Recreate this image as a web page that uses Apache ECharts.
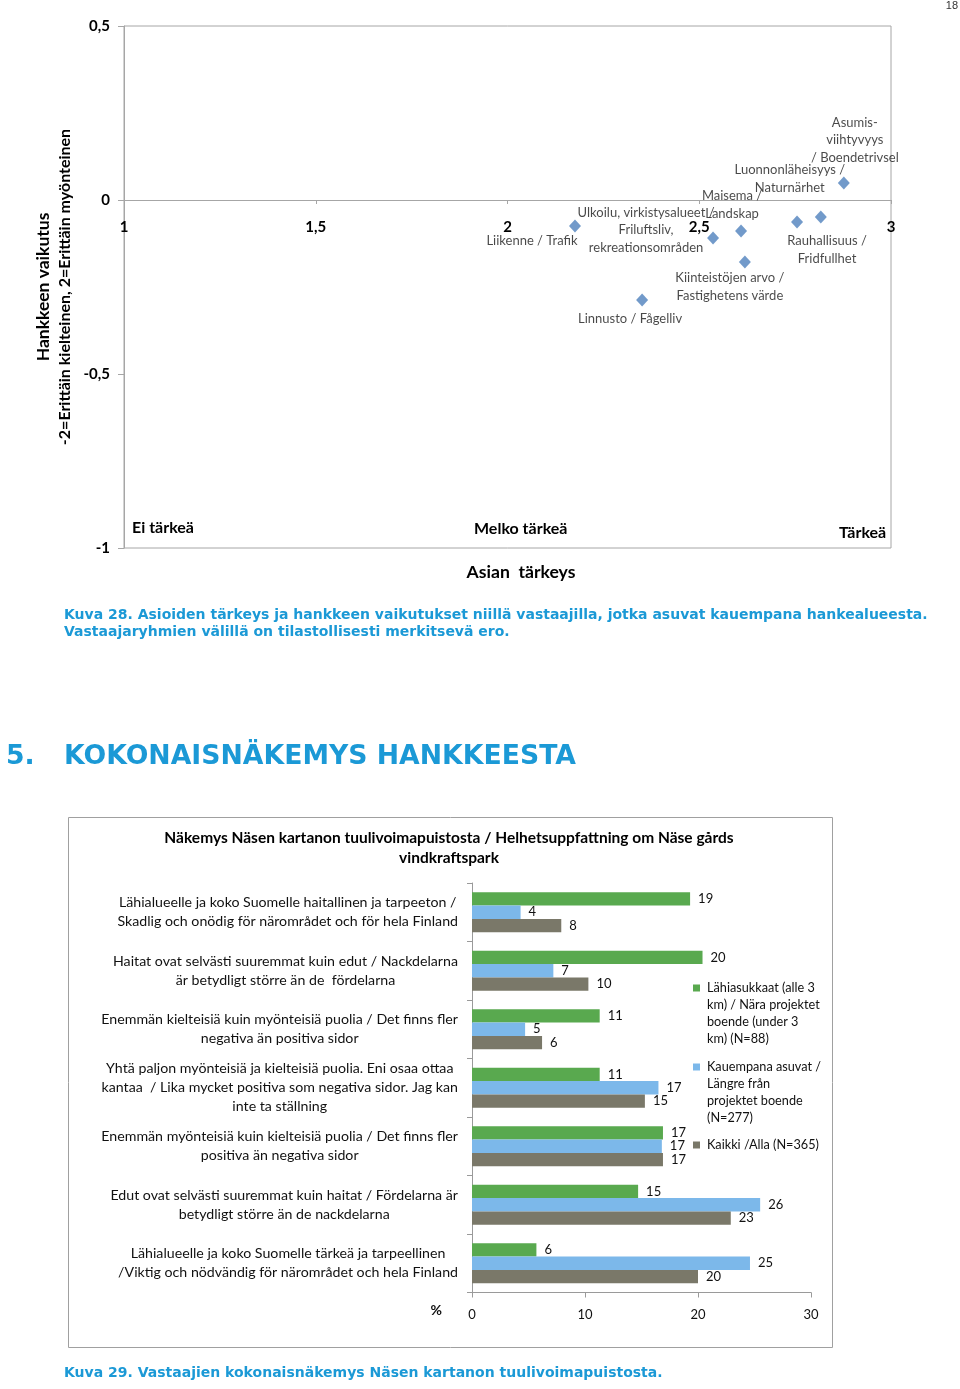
<!DOCTYPE html>
<html><head><meta charset="utf-8">
<script src="https://cdn.jsdelivr.net/npm/echarts@6/dist/echarts.min.js"></script>
<style>html,body{margin:0;padding:0;background:#fff}#c{width:960px;height:1389px}</style>
</head><body><div id="c"></div>
<script>
// ---- Scatter (Kuva 28) ----
const scatterNames = [
  'Liikenne / Trafik',
  'Linnusto / Fågelliv',
  'Ulkoilu, virkistysalueet /\nFriluftsliv,\nrekreationsområden',
  'Maisema /\nLandskap',
  'Kiinteistöjen arvo /\nFastighetens värde',
  'Rauhallisuus /\nFridfullhet',
  'Luonnonläheisyys /\nNaturnärhet',
  'Asumis-\nviihtyvyys\n/ Boendetrivsel'
];
const scatterImportance = [2.176, 2.351, 2.536, 2.609, 2.619, 2.755, 2.817, 2.877];
const scatterImpact = [-0.075, -0.287, -0.109, -0.089, -0.178, -0.063, -0.049, 0.049];
const scatterXTicks = ['1', '1,5', '2', '2,5', '3'];
const scatterYTicks = ['-1', '-0,5', '0', '0,5'];
const importanceLevels = ['Ei tärkeä', 'Melko tärkeä', 'Tärkeä'];

// ---- Bars (Kuva 29) ----
const barCategories = [
  'Lähialueelle ja koko Suomelle haitallinen ja tarpeeton /\nSkadlig och onödig för närområdet och för hela Finland',
  'Haitat ovat selvästi suuremmat kuin edut / Nackdelarna\när betydligt större än de  fördelarna',
  'Enemmän kielteisiä kuin myönteisiä puolia / Det finns fler\nnegativa än positiva sidor',
  'Yhtä paljon myönteisiä ja kielteisiä puolia. Eni osaa ottaa\nkantaa  / Lika mycket positiva som negativa sidor. Jag kan\ninte ta ställning',
  'Enemmän myönteisiä kuin kielteisiä puolia / Det finns fler\npositiva än negativa sidor',
  'Edut ovat selvästi suuremmat kuin haitat / Fördelarna är\nbetydligt större än de nackdelarna',
  'Lähialueelle ja koko Suomelle tärkeä ja tarpeellinen\n/Viktig och nödvändig för närområdet och hela Finland'
];
const seriesNames = [
  'Lähiasukkaat (alle 3\nkm) / Nära projektet\nboende (under 3\nkm) (N=88)',
  'Kauempana asuvat /\nLängre från\nprojektet boende\n(N=277)',
  'Kaikki /Alla (N=365)'
];
const nearValues = [19.3, 20.4, 11.3, 11.3, 16.9, 14.7, 5.7];
const farValues  = [4.3, 7.2, 4.7, 16.5, 16.8, 25.5, 24.6];
const allValues  = [7.9, 10.3, 6.2, 15.3, 16.9, 22.9, 20.0];
const barXTicks = ['0', '10', '20', '30'];

const F = 'Lato, "Open Sans", sans-serif';
const V = '"DejaVu Sans", Verdana, sans-serif';
const BLUE = '#1b99d6';
const AX = '#9a9a9a';

// label placement for the scatter points (pixel offsets from point)
const labelOffsets = [[-43, 15], [-12, 19], [-67, -8], [-9, -26], [-15, 25], [30, 28], [-31, -38], [11, -43]];

const scatterData = scatterNames.map((n, i) => ({
  name: n,
  value: [scatterImportance[i], scatterImpact[i]],
  label: { offset: labelOffsets[i] }
}));

const chart = echarts.init(document.getElementById('c'), null, { renderer: 'canvas' });

const barSeries = [nearValues, farValues, allValues].map((vals, i) => ({
  type: 'bar', name: seriesNames[i], xAxisIndex: 1, yAxisIndex: 1,
  data: vals,
  barGap: '0%', barCategoryGap: '32%',
  itemStyle: { color: ['#59a94f', '#7cb8ea', '#7a7869'][i] },
  label: { show: true, position: 'right', distance: 8, fontFamily: F, fontSize: 13, color: '#111',
           formatter: p => Math.round(p.value) },
  silent: true
}));

const legendTops = [928.5, 1007.5, 1136.5];
const legends = seriesNames.map((n, i) => ({
  data: [n], orient: 'vertical', left: 693, top: legendTops[i], padding: 0,
  itemWidth: 7, itemHeight: 7, itemGap: 0, icon: 'rect', selectedMode: false,
  formatter: i < 2 ? '\n\n\n{name}' : '{name}',
  textStyle: { fontFamily: F, fontSize: 12.7, lineHeight: 17, color: '#111', padding: [0, 0, 0, 2] }
}));

const option = {
  animation: false,
  backgroundColor: '#fff',
  legend: legends,
  grid: [
    { left: 124, top: 26, width: 767, height: 522, show: true, borderColor: '#a6a6a6', borderWidth: 1, containLabel: false },
    { left: 472, top: 883, width: 339, height: 409.5, containLabel: false }
  ],
  xAxis: [
    { gridIndex: 0, type: 'value', min: 1, max: 3, interval: 0.5,
      axisLine: { show: true, onZero: true, lineStyle: { color: '#a6a6a6' } },
      axisTick: { show: true, length: 4, lineStyle: { color: '#a6a6a6' } },
      splitLine: { show: false },
      axisLabel: { fontFamily: F, fontSize: 15, fontWeight: 'bold', color: '#000', margin: -328,
                   formatter: v => scatterXTicks[Math.round((v - 1) / 0.5)] } },
    { gridIndex: 1, type: 'value', min: 0, max: 30, interval: 10,
      axisLine: { show: true, lineStyle: { color: AX } },
      axisTick: { show: true, length: 5, lineStyle: { color: AX } },
      splitLine: { show: false },
      axisLabel: { fontFamily: F, fontSize: 13, color: '#111', margin: 16,
                   formatter: v => barXTicks[Math.round(v / 10)] },
      name: '%', nameLocation: 'start', nameGap: 30,
      nameTextStyle: { fontFamily: F, fontSize: 14, fontWeight: 'bold', color: '#111', verticalAlign: 'top', padding: [11, 0, 0, 0] } }
  ],
  yAxis: [
    { gridIndex: 0, type: 'value', min: -1, max: 0.5, interval: 0.5,
      axisLine: { show: true, lineStyle: { color: '#a6a6a6' } },
      axisTick: { show: true, length: 6, lineStyle: { color: '#a6a6a6' } },
      splitLine: { show: false },
      axisLabel: { fontFamily: F, fontSize: 15, fontWeight: 'bold', color: '#000', margin: 14,
                   formatter: v => scatterYTicks[Math.round((v + 1) / 0.5)] },
      name: '{a|Hankkeen vaikutus}\n{b|-2=Erittäin kielteinen, 2=Erittäin myönteinen}',
      nameLocation: 'middle', nameGap: 49, nameRotate: 90,
      nameTextStyle: { color: '#000', rich: {
        a: { fontFamily: F, fontSize: 17.5, fontWeight: 'bold', lineHeight: 22, color: '#000' },
        b: { fontFamily: F, fontSize: 16, fontWeight: 'bold', lineHeight: 20, color: '#000' } } } },
    { gridIndex: 1, type: 'category', data: barCategories, inverse: true,
      axisLine: { show: true, lineStyle: { color: AX } },
      axisTick: { show: true, length: 5, lineStyle: { color: AX } },
      axisLabel: { margin: 14, interval: 0,
        formatter: v => v.split('\n').map(l => '{c|' + l + '}').join('\n'),
        rich: { c: { fontFamily: F, fontSize: 14.2, lineHeight: 19, color: '#111', align: 'center' } } } }
  ],
  series: [
    { type: 'scatter', xAxisIndex: 0, yAxisIndex: 0, data: scatterData,
      symbol: 'diamond', symbolSize: [12, 13],
      itemStyle: { color: '#4f81bd' },
      label: { show: true, position: 'inside', formatter: p => p.name,
               fontFamily: F, fontSize: 13, lineHeight: 17.5, color: '#1a1a1a', align: 'center', verticalAlign: 'middle' },
      silent: true },
    ...barSeries
  ],
  graphic: [
    { type: 'text', x: 958, y: 6, style: { text: '18', font: '11px "Liberation Sans", Arial', fill: '#333', align: 'right', verticalAlign: 'middle' } },
    { type: 'text', x: 132, y: 528, style: { text: importanceLevels[0], font: 'bold 16px ' + F, fill: '#000', verticalAlign: 'middle' } },
    { type: 'text', x: 474, y: 529, style: { text: importanceLevels[1], font: 'bold 16px ' + F, fill: '#000', verticalAlign: 'middle' } },
    { type: 'text', x: 839, y: 533, style: { text: importanceLevels[2], font: 'bold 16px ' + F, fill: '#000', verticalAlign: 'middle' } },
    { type: 'text', x: 521, y: 572, style: { text: 'Asian  tärkeys', font: 'bold 17.6px ' + F, fill: '#000', align: 'center', verticalAlign: 'middle' } },
    { type: 'text', x: 64, y: 615, style: { text: 'Kuva 28. Asioiden tärkeys ja hankkeen vaikutukset niillä vastaajilla, jotka asuvat kauempana hankealueesta.', font: 'bold 14px ' + V, fill: BLUE, verticalAlign: 'middle' } },
    { type: 'text', x: 64, y: 632, style: { text: 'Vastaajaryhmien välillä on tilastollisesti merkitsevä ero.', font: 'bold 14px ' + V, fill: BLUE, verticalAlign: 'middle' } },
    { type: 'text', x: 6, y: 757, style: { text: '5.', font: 'bold 26.7px ' + V, fill: BLUE, verticalAlign: 'middle' } },
    { type: 'text', x: 64, y: 757, style: { text: 'KOKONAISNÄKEMYS HANKKEESTA', font: 'bold 26.7px ' + V, fill: BLUE, verticalAlign: 'middle' } },
    { type: 'rect', shape: { x: 68.5, y: 817.5, width: 764, height: 530 }, style: { fill: 'none', stroke: '#a0a0a0', lineWidth: 1 }, z: -1 },
    { type: 'text', x: 449, y: 828, style: { text: 'Näkemys Näsen kartanon tuulivoimapuistosta / Helhetsuppfattning om Näse gårds\nvindkraftspark', font: 'bold 15.5px ' + F, lineHeight: 20, fill: '#000', align: 'center', verticalAlign: 'top' } },
    { type: 'text', x: 64, y: 1373, style: { text: 'Kuva 29. Vastaajien kokonaisnäkemys Näsen kartanon tuulivoimapuistosta.', font: 'bold 14px ' + V, fill: BLUE, verticalAlign: 'middle' } }
  ]
};
chart.setOption(option);
</script>
</body></html>
